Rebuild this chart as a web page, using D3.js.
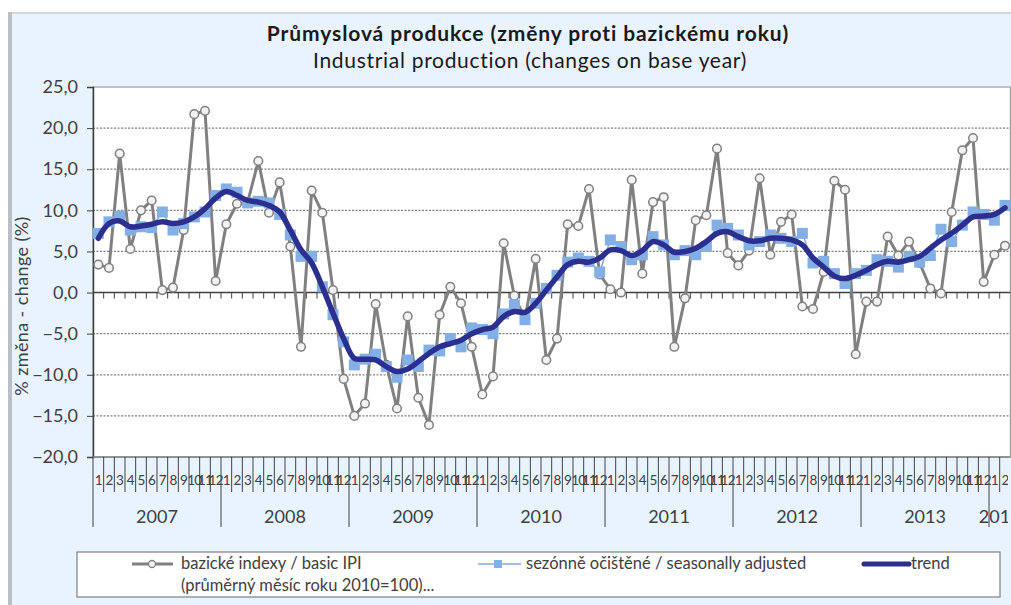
<!DOCTYPE html>
<html>
<head>
<meta charset="utf-8">
<script src="https://cdn.jsdelivr.net/npm/d3@7/dist/d3.min.js"></script>
<style>
  body { margin: 0; background: #fff; }
  text { font-family: Lato, "Open Sans", sans-serif; fill: #404040; }
</style>
</head>
<body>
<svg id="chart" width="1011" height="605"></svg>
<script>
// categories
var years = ["2007", "2008", "2009", "2010", "2011", "2012", "2013", "2014"];
var monthsInYear = [12, 12, 12, 12, 12, 12, 12, 2];
var monthLabels = ["1","2","3","4","5","6","7","8","9","10","11","12"];

// series, % change on base year
var basicIPI = [
  3.4, 3.0, 16.9, 5.3, 10.0, 11.2, 0.3, 0.6, 7.6, 21.7, 22.1, 1.4,
  8.3, 10.8, 11.0, 16.0, 9.7, 13.4, 5.6, -6.6, 12.4, 9.7, 0.3, -10.5,
  -15.0, -13.5, -1.4, -8.8, -14.1, -2.9, -12.8, -16.1, -2.7, 0.7, -1.3, -6.6,
  -12.4, -10.2, 6.0, -0.4, -3.2, 4.1, -8.2, -5.6, 8.3, 8.1, 12.6, 2.2,
  0.4, 0.0, 13.7, 2.3, 11.0, 11.6, -6.6, -0.7, 8.8, 9.4, 17.5, 4.8,
  3.3, 5.1, 13.9, 4.6, 8.6, 9.5, -1.7, -2.0, 2.5, 13.6, 12.5, -7.5,
  -1.1, -1.1, 6.8, 4.5, 6.2, 3.6, 0.5, -0.1, 9.8, 17.3, 18.8, 1.3,
  4.6, 5.7
];
var seasAdj = [
  7.2, 8.6, 9.3, 7.6, 8.0, 7.9, 9.8, 7.6, 8.4, 9.2, 9.8, 11.8,
  12.6, 12.2, 10.9, 11.1, 10.9, 9.5, 7.0, 4.4, 4.4, 0.7, -2.7, -6.0,
  -8.8, -8.1, -7.5, -9.0, -10.3, -8.2, -9.0, -7.0, -7.1, -5.6, -6.6, -4.3,
  -4.5, -5.0, -2.6, -1.5, -3.3, -1.3, 0.5, 2.1, 3.7, 4.2, 3.8, 2.5,
  6.4, 5.6, 4.0, 4.6, 6.8, 5.8, 4.6, 5.1, 4.6, 5.6, 8.2, 7.8,
  7.0, 5.8, 6.2, 7.0, 6.6, 6.2, 7.2, 3.6, 3.8, 2.3, 1.1, 2.3,
  2.7, 4.0, 3.8, 3.1, 4.4, 3.7, 4.5, 7.7, 6.2, 8.2, 9.8, 9.5,
  8.8, 10.6
];
var trend = [
  6.6, 8.4, 8.7, 8.0, 8.1, 8.3, 8.6, 8.4, 8.6, 9.2, 10.2, 11.5,
  12.3, 11.8, 11.2, 11.0, 10.6, 9.8, 7.6, 5.2, 3.6, 0.7, -2.5, -5.6,
  -8.0, -8.1, -8.2, -9.0, -9.6, -9.3, -8.4, -7.4, -6.6, -6.2, -5.8, -5.0,
  -4.5, -4.2, -2.9, -2.3, -2.4, -1.3, 0.3, 1.9, 3.4, 3.8, 3.7, 4.2,
  5.2, 5.1, 4.5, 5.1, 6.2, 5.8, 4.9, 5.0, 5.4, 6.2, 7.2, 7.4,
  6.8, 6.3, 6.3, 6.6, 6.6, 6.4, 5.8, 4.2, 3.1, 2.0, 1.7, 2.1,
  2.7, 3.4, 3.8, 3.7, 4.0, 4.4, 5.4, 6.4, 7.2, 8.2, 9.2, 9.3,
  9.5, 10.3
];

var yTicks = [-20, -15, -10, -5, 0, 5, 10, 15, 20, 25];
var legendLabels = ["bazické indexy / basic IPI", "sezónně očištěné / seasonally adjusted", "trend"];
var legendNote = "(průměrný měsíc roku 2010=100)...";

// build the month categories
var cats = [];
years.forEach(function(yr, i) {
  for (var m = 0; m < monthsInYear[i]; m++) cats.push({ year: yr, month: monthLabels[m], first: m == 0 });
});

var svg = d3.select("#chart");
var pLeft = 93, pTop = 87, pBottom = 457, bw = 10.667;
var pRight = pLeft + bw * cats.length;

var x = d3.scaleBand().domain(d3.range(cats.length)).range([pLeft, pRight]).padding(0);
var y = d3.scaleLinear().domain([-20, 25]).range([pBottom, pTop]);
var cx = function(i) { return x(i) + x.bandwidth() / 2; };

// background panel
svg.append("rect").attr("x", 8).attr("y", 12).attr("width", 1003).attr("height", 593)
  .attr("style", "fill:#e9f3fd;");
svg.append("rect").attr("x", 8).attr("y", 12).attr("width", 1003).attr("height", 2)
  .attr("style", "fill:#d4d9de;");
svg.append("rect").attr("x", 8).attr("y", 12).attr("width", 4).attr("height", 593)
  .attr("style", "fill:#b9bfc6;");

svg.append("defs").append("clipPath").attr("id", "plotclip")
  .append("rect").attr("x", pLeft - 2).attr("y", 0).attr("width", 1008 - pLeft + 2).attr("height", 605);

// plot area
svg.append("rect").attr("x", pLeft).attr("y", pTop).attr("width", pRight - pLeft).attr("height", pBottom - pTop)
  .attr("style", "fill:#fff;stroke:#8c8c8c;stroke-width:1;");

// titles
svg.append("text").attr("x", 528).attr("y", 41).attr("text-anchor", "middle")
  .attr("style", "font-size:21px;font-weight:bold;fill:#1a1a1a;letter-spacing:0.9px")
  .text("Průmyslová produkce (změny proti bazickému roku)");
svg.append("text").attr("x", 530).attr("y", 68).attr("text-anchor", "middle")
  .attr("style", "font-size:21px;fill:#1a1a1a;letter-spacing:0.7px")
  .text("Industrial production (changes on base year)");

// gridlines
svg.append("g").selectAll("line").data(yTicks.filter(function(d) { return d != 0 && d != -20 && d != 25; }))
  .enter().append("line")
  .attr("x1", pLeft).attr("x2", pRight)
  .attr("y1", function(d) { return y(d); }).attr("y2", function(d) { return y(d); })
  .attr("style", "stroke:#7f7f7f;stroke-width:1.2;stroke-dasharray:2,1.5;");

// y axis
var yAxis = svg.append("g").attr("transform", "translate(" + pLeft + ",0)")
  .call(d3.axisLeft(y).tickValues(yTicks).tickSize(6).tickPadding(9)
    .tickFormat(function(d) { return d3.format(".1f")(d).replace(".", ","); }));
yAxis.select(".domain").attr("stroke", "#404040").attr("stroke-width", 1.5);
yAxis.selectAll(".tick line").attr("stroke", "#404040");
yAxis.selectAll("text").attr("style", "font-size:18px;font-family:Lato;fill:#404040");

svg.append("text").attr("transform", "translate(28,306) rotate(-90)").attr("text-anchor", "middle")
  .attr("style", "font-size:18px;fill:#404040;letter-spacing:0.4px").text("% změna - change (%)");

// zero line with small month ticks
svg.append("line").attr("x1", pLeft).attr("x2", pRight).attr("y1", y(0)).attr("y2", y(0))
  .attr("style", "stroke:#404040;stroke-width:1.5;");
svg.append("g").selectAll("line").data(d3.range(1, cats.length)).enter().append("line")
  .attr("x1", function(i) { return x(i); }).attr("x2", function(i) { return x(i); })
  .attr("y1", y(0)).attr("y2", y(0) + 6)
  .attr("style", "stroke:#404040;stroke-width:1;");

// category axis at bottom
svg.append("line").attr("x1", pLeft).attr("x2", pRight).attr("y1", pBottom).attr("y2", pBottom)
  .attr("style", "stroke:#808080;stroke-width:1.5;");
svg.append("g").selectAll("line").data(d3.range(0, cats.length)).enter().append("line")
  .attr("x1", function(i) { return x(i); }).attr("x2", function(i) { return x(i); })
  .attr("y1", pBottom).attr("y2", function(i) { return cats[i].first ? 527 : 492; })
  .attr("style", "stroke:#404040;stroke-width:1;");

var axisText = svg.append("g").attr("clip-path", "url(#plotclip)");
axisText.selectAll(".mlab").data(cats).enter().append("text")
  .attr("class", "mlab")
  .attr("x", function(d, i) { return cx(i); }).attr("y", 485)
  .attr("text-anchor", "middle")
  .attr("style", "font-size:13.5px;fill:#404040;letter-spacing:-0.7px")
  .text(function(d) { return d.month; });

var yearStart = [];
cats.forEach(function(d, i) { if (d.first) yearStart.push(i); });
axisText.selectAll(".ylab").data(years).enter().append("text")
  .attr("class", "ylab")
  .attr("x", function(d, j) { return (x(yearStart[j]) + x(yearStart[j] + monthsInYear[j] - 1) + bw) / 2; })
  .attr("y", 523).attr("text-anchor", "middle")
  .attr("style", "font-size:18px;fill:#404040")
  .text(function(d) { return d; });

// series
var line = d3.line().x(function(d, i) { return cx(i); }).y(function(d) { return y(d); });
var smooth = d3.line().x(function(d, i) { return cx(i); }).y(function(d) { return y(d); }).curve(d3.curveCatmullRom.alpha(0.5));

svg.append("path").datum(basicIPI).attr("d", line)
  .attr("style", "fill:none;stroke:#808080;stroke-width:3;stroke-linejoin:round;");
svg.append("g").selectAll("circle").data(basicIPI).enter().append("circle")
  .attr("cx", function(d, i) { return cx(i); }).attr("cy", function(d) { return y(d); })
  .attr("r", 4.3)
  .attr("style", "fill:#f2f2f2;stroke:#808080;stroke-width:1.5;");

svg.append("path").datum(seasAdj).attr("d", line)
  .attr("style", "fill:none;stroke:#7fa9e0;stroke-width:1.5;");
svg.append("g").selectAll("rect").data(seasAdj).enter().append("rect")
  .attr("x", function(d, i) { return cx(i) - 5.5; }).attr("y", function(d) { return y(d) - 5.5; })
  .attr("width", 11).attr("height", 11)
  .attr("style", "fill:#84afe4;");

svg.append("path").datum(trend).attr("d", smooth)
  .attr("style", "fill:none;stroke:#2b3090;stroke-width:5.5;stroke-linejoin:round;stroke-linecap:round;");

// legend
var lg = svg.append("g");
lg.append("rect").attr("x", 77).attr("y", 552).attr("width", 923).attr("height", 45)
  .attr("style", "fill:#fff;stroke:#7f7f7f;stroke-width:1.2;");

lg.append("line").attr("x1", 132).attr("x2", 173).attr("y1", 564).attr("y2", 564)
  .attr("style", "stroke:#808080;stroke-width:3;");
lg.append("circle").attr("cx", 152).attr("cy", 564).attr("r", 3.5)
  .attr("style", "fill:#f2f2f2;stroke:#808080;stroke-width:1.3;");
lg.append("text").attr("x", 181).attr("y", 569).attr("style", "font-size:16.5px;fill:#404040").text(legendLabels[0]);
lg.append("text").attr("x", 181).attr("y", 591).attr("style", "font-size:16.5px;fill:#404040").text(legendNote);

lg.append("line").attr("x1", 478).attr("x2", 521).attr("y1", 564).attr("y2", 564)
  .attr("style", "stroke:#7fa9e0;stroke-width:1.5;");
lg.append("rect").attr("x", 494).attr("y", 560).attr("width", 8).attr("height", 8)
  .attr("style", "fill:#84afe4;");
lg.append("text").attr("x", 526).attr("y", 569).attr("style", "font-size:16.5px;fill:#404040").text(legendLabels[1]);

lg.append("line").attr("x1", 864).attr("x2", 909).attr("y1", 564).attr("y2", 564)
  .attr("style", "stroke:#2b3090;stroke-width:5;stroke-linecap:round;");
lg.append("text").attr("x", 911).attr("y", 569).attr("style", "font-size:16.5px;fill:#404040").text(legendLabels[2]);
</script>
</body>
</html>
